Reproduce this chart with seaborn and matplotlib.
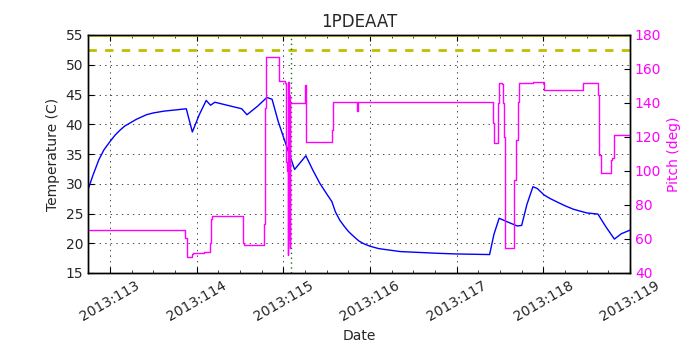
import matplotlib
matplotlib.use("Agg")
import matplotlib.pyplot as plt
from matplotlib.ticker import FixedLocator, MultipleLocator
import seaborn as sns
import numpy as np

# ---- data (day of year 2013) ----
temp_day = [112.746, 112.800, 112.870, 112.930, 113.000, 113.060, 113.115, 113.170,
            113.230, 113.300, 113.420, 113.500, 113.620, 113.750, 113.880, 113.950,
            114.030, 114.110, 114.160, 114.210, 114.520, 114.580, 114.700, 114.810,
            114.870, 114.940, 115.000, 115.130, 115.260, 115.340, 115.420, 115.500,
            115.560, 115.600, 115.650, 115.700, 115.750, 115.800, 115.870, 115.930,
            116.000, 116.100, 116.200, 116.350, 116.500, 116.650, 116.800, 117.000,
            117.380, 117.430, 117.490, 117.600, 117.700, 117.750, 117.810, 117.880,
            117.930, 118.010, 118.080, 118.150, 118.250, 118.350, 118.500, 118.630,
            118.720, 118.820, 118.900, 119.000]
temp_val = [29.0, 31.3, 34.0, 35.7, 37.1, 38.2, 39.0, 39.7,
            40.2, 40.8, 41.6, 41.9, 42.2, 42.4, 42.6, 38.7,
            41.6, 44.0, 43.2, 43.7, 42.6, 41.6, 43.0, 44.5,
            44.2, 40.5, 37.9, 32.4, 34.7, 32.3, 30.1, 28.3,
            27.0, 25.3, 23.9, 22.9, 22.0, 21.3, 20.4, 19.9,
            19.5, 19.1, 18.9, 18.6, 18.5, 18.4, 18.3, 18.2,
            18.1, 21.5, 24.2, 23.5, 22.9, 23.0, 26.5, 29.5,
            29.2, 28.1, 27.5, 27.0, 26.3, 25.7, 25.1, 24.9,
            22.8, 20.7, 21.6, 22.2]

pitch_day = [112.746, 113.871, 113.885, 113.950, 113.961, 114.088, 114.157, 114.165,
             114.173, 114.538, 114.546, 114.780, 114.792, 114.803, 114.950, 115.019,
             115.034, 115.042, 115.048, 115.057, 115.063, 115.069, 115.075, 115.080,
             115.115, 115.250, 115.256, 115.261, 115.565, 115.576, 115.853, 115.865,
             117.416, 117.427, 117.480, 117.492, 117.519, 117.531, 117.538, 117.546,
             117.561, 117.665, 117.681, 117.704, 117.716, 117.866, 117.884, 118.008,
             118.454, 118.461, 118.634, 118.646, 118.662, 118.777, 118.796, 118.819,
             119.000]
pitch_val = [65.1, 60.4, 49.6, 51.2, 52.0, 52.6, 57.8, 71.6,
             73.7, 57.5, 56.5, 68.8, 136.9, 166.9, 153.0, 151.6,
             105.5, 100.0, 50.6, 152.6, 60.0, 145.0, 55.0, 140.0,
             139.8, 150.6, 130.0, 117.3, 124.0, 140.8, 135.5, 140.8,
             128.4, 116.3, 140.0, 152.0, 151.0, 149.6, 140.0, 120.2,
             54.5, 94.7, 118.2, 140.8, 151.6, 152.0, 152.6, 147.6,
             150.0, 151.6, 144.7, 109.4, 98.6, 106.5, 107.5, 121.2,
             121.2]

tick_days = [113, 114, 115, 116, 117, 118, 119]
tick_labels = ["2013:113", "2013:114", "2013:115", "2013:116",
               "2013:117", "2013:118", "2013:119"]
limit_hi = 55.0
limit_warn = 52.5
event_day = 115.085

# ---- style ----
sns.set_style("white")
plt.rcParams["font.family"] = ["DejaVu Sans"]
plt.rcParams["lines.scale_dashes"] = False
plt.rcParams["xtick.direction"] = "in"
plt.rcParams["ytick.direction"] = "in"

BLUE = "#0000FF"
MAG = "#FF00FF"
YEL = (0.75, 0.75, 0.0)

fig = plt.figure(figsize=(7, 3.5), dpi=100, facecolor="white")
ax = fig.add_axes([88 / 700, 77 / 350, 542 / 700, 238 / 350])

sns.lineplot(x=temp_day, y=temp_val, ax=ax, color=BLUE, lw=1,
             estimator=None, sort=False)
ax.axhline(limit_hi, color=YEL, lw=2, zorder=5)
ax.axhline(limit_warn, color=YEL, lw=2, linestyle=(0, (6, 6)))
ax.axvline(event_day, color=(0, 0.5, 0), lw=1, linestyle=(0, (1, 2.5)))

ax.set_xlim(112.746, 119.0)
ax.set_ylim(15, 55)
ax.xaxis.set_major_locator(FixedLocator(tick_days))
ax.set_xticklabels(tick_labels, rotation=30, ha="center", fontsize=10)
ax.xaxis.set_minor_locator(MultipleLocator(0.25))
ax.yaxis.set_major_locator(MultipleLocator(5))
ax.tick_params(axis="both", which="major", length=4, width=0.8, labelsize=10,
               top=True, bottom=True, left=True, right=False, color="black")
ax.tick_params(axis="x", which="minor", length=2, width=0.6, top=True, bottom=True)
ax.grid(True, which="major", color="black", lw=0.5, linestyle=(0, (1, 3)))
ax.set_xlabel("Date", fontsize=10)
ax.set_ylabel("Temperature (C)", fontsize=10)
ax.set_title("1PDEAAT", fontsize=12)
for s in ax.spines.values():
    s.set_color("black")
    s.set_linewidth(1)

ax2 = ax.twinx()
sns.lineplot(x=pitch_day, y=pitch_val, ax=ax2, color=MAG, lw=1,
             estimator=None, sort=False, drawstyle="steps-post")
ax2.set_ylim(40, 180)
ax2.yaxis.set_major_locator(MultipleLocator(20))
ax2.tick_params(axis="y", length=4, width=0.8, labelsize=10, labelcolor=MAG,
                right=True, left=False, color="black")
ax2.set_ylabel("Pitch (deg)", color=MAG, fontsize=10)
ax2.set_xlim(112.746, 119.0)
for s in ax2.spines.values():
    s.set_color("black")
    s.set_linewidth(1)

fig.savefig("out.png", dpi=100, facecolor="white")
